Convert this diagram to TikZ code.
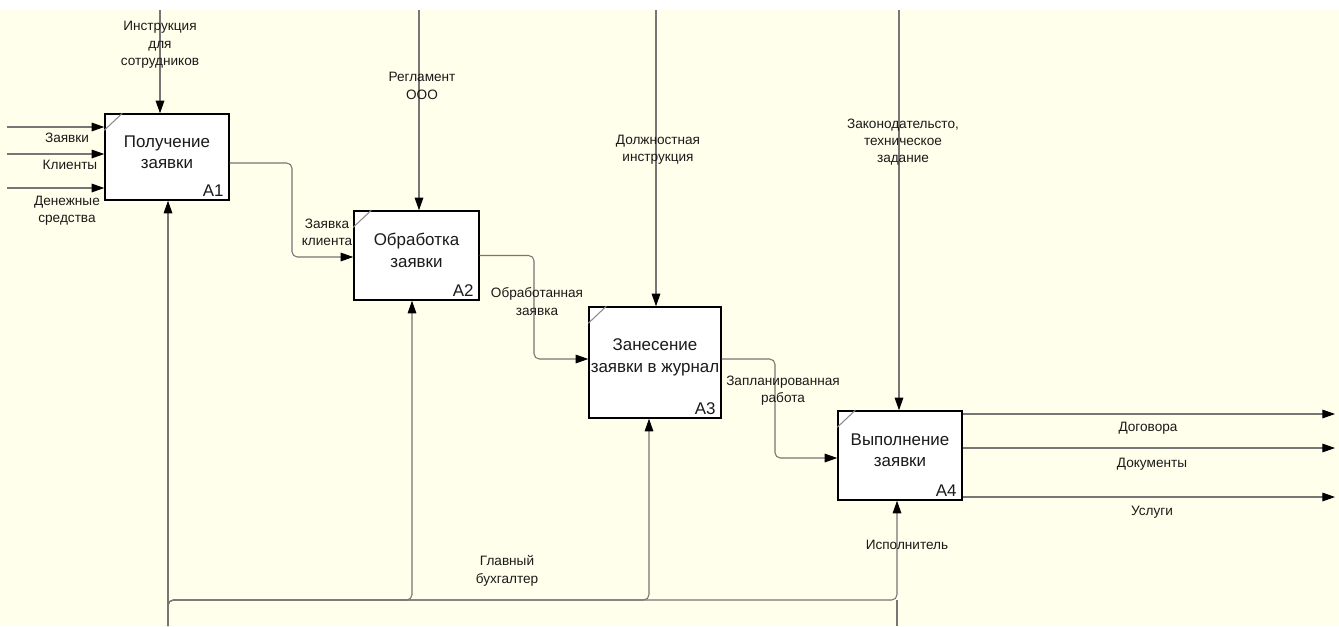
\documentclass[tikz,border=0pt]{standalone}
\usepackage{fontspec}
\setmainfont{Liberation Sans}
\usetikzlibrary{positioning,calc,arrows.meta}

\begin{document}
\begin{tikzpicture}[x=0.75pt,y=-0.75pt]
    \definecolor{colback}{HTML}{FFFFEB}
    \definecolor{colline}{HTML}{767676}
    \definecolor{colmark}{HTML}{8C8C8C}
    \definecolor{coltext}{HTML}{1A1A1A}
    \tikzstyle{func}=[draw=black,fill=white,line width=1.1pt,inner sep=0pt]
    \tikzstyle{ftitle}=[align=center,inner sep=0pt,text=coltext,font=\fontsize{12.7}{16}\selectfont]
    \tikzstyle{fnum}=[anchor=south east,inner sep=0pt,text=coltext,font=\fontsize{12.7}{16}\selectfont]
    \tikzstyle{lbl}=[align=center,inner sep=0pt,text=coltext,font=\fontsize{10.2}{13}\selectfont]
    \tikzstyle{conn}=[colline,line width=0.8pt,rounded corners=4pt,
                      -{Triangle[length=9.5pt,width=6.5pt,color=black,fill=black]}]
    \tikzstyle{cornermark}=[colmark,line width=0.8pt]
    % background
    \useasboundingbox (0,0) rectangle (1339,626);
    \fill[white] (0,0) rectangle (1339,626);
    \fill[colback] (0,10) rectangle (1339,626);
    % functions
    \node[func,minimum width=93pt,minimum height=64.5pt] (A1) at (167,157) {};
    \node[func,minimum width=93.75pt,minimum height=66.75pt] (A2) at (416.5,255.5) {};
    \node[func,minimum width=99pt,minimum height=83.25pt] (A3) at (655,362.5) {};
    \node[func,minimum width=93pt,minimum height=66.75pt] (A4) at (900,455.5) {};
    \node[ftitle] (t1) at ($(A1)+(0,-5)$) {Получение\\заявки};
    \node[ftitle] (t2) at ($(A2)+(0,-5)$) {Обработка\\заявки};
    \node[ftitle] (t3) at ($(A3)+(0,-5)$) {Занесение\\заявки в журнал};
    \node[ftitle] (t4) at ($(A4)+(0,-5)$) {Выполнение\\заявки};
    \node[fnum] (n1) at ($(A1.south east)+(-6,-4)$) {A1};
    \node[fnum] (n2) at ($(A2.south east)+(-6,-4)$) {A2};
    \node[fnum] (n3) at ($(A3.south east)+(-6,-4)$) {A3};
    \node[fnum] (n4) at ($(A4.south east)+(-6,-4)$) {A4};
    \draw[cornermark] ($(A1.north west)+(0,17)$) -- ($(A1.north west)+(18,0)$);
    \draw[cornermark] ($(A2.north west)+(0,17)$) -- ($(A2.north west)+(18,0)$);
    \draw[cornermark] ($(A3.north west)+(0,17)$) -- ($(A3.north west)+(18,0)$);
    \draw[cornermark] ($(A4.north west)+(0,17)$) -- ($(A4.north west)+(18,0)$);
    % inputs
    \coordinate (inZ) at (7,127);
    \coordinate (inK) at (7,154);
    \coordinate (inD) at (7,188);
    \draw[conn] (inZ) -- (inZ -| A1.west);
    \draw[conn] (inK) -- (inK -| A1.west);
    \draw[conn] (inD) -- (inD -| A1.west);
    \node[lbl] (lZ) at (67,138) {Заявки};
    \node[lbl] (lK) at (70,165) {Клиенты};
    \node[lbl] (lD) at (67,211) {Денежные\\средства};
    % controls
    \coordinate (ctl1) at (160,10);
    \coordinate (ctl2) at (419,10);
    \coordinate (ctl3) at (656,10);
    \coordinate (ctl4) at (899,10);
    \draw[conn] (ctl1) -- (ctl1 |- A1.north);
    \draw[conn] (ctl2) -- (ctl2 |- A2.north);
    \draw[conn] (ctl3) -- (ctl3 |- A3.north);
    \draw[conn] (ctl4) -- (ctl4 |- A4.north);
    \node[lbl] (lc1) at (160,45) {Инструкция\\для\\сотрудников};
    \node[lbl] (lc2) at (422,86) {Регламент\\ООО};
    \node[lbl] (lc3) at (658,150) {Должностная\\инструкция};
    \node[lbl] (lc4) at (903,142) {Законодательсто,\\техническое\\задание};
    % between functions
    \coordinate (b12) at (292,257);
    \coordinate (b23) at (534,359);
    \coordinate (b34) at (775,458);
    \draw[conn] ($(A1.east)+(0,6)$) -| (b12) -- (b12 -| A2.west);
    \draw[conn] (A2.east) -| (b23) -- (b23 -| A3.west);
    \draw[conn] ($(A3.east)+(0,-3.5)$) -| (b34) -- (b34 -| A4.west);
    \node[lbl] (l12) at (327,232) {Заявка\\клиента};
    \node[lbl] (l23) at (537,301.5) {Обработанная\\заявка};
    \node[lbl] (l34) at (783,390.5) {Запланированная\\работа};
    % outputs
    \coordinate (outDg) at (1335,414);
    \coordinate (outDk) at (1335,448);
    \coordinate (outU) at (1335,497);
    \draw[conn] (outDg -| A4.east) -- (outDg);
    \draw[conn] (outDk -| A4.east) -- (outDk);
    \draw[conn] (outU -| A4.east) -- (outU);
    \node[lbl] (lDg) at (1148,428) {Договора};
    \node[lbl] (lDk) at (1152,464) {Документы};
    \node[lbl] (lU) at (1152,512) {Услуги};
    % mechanisms
    \coordinate (mecL) at (168,626);
    \coordinate (mecR) at (897,626);
    \coordinate (m2) at (412,600);
    \coordinate (m3) at (649,600);
    \coordinate (m4) at (897,600);
    \draw[conn] (mecL) -- (mecL |- A1.south);
    \draw[conn] (mecL) |- (m2) -- (m2 |- A2.south);
    \draw[conn] (mecL) |- (m3) -- (m3 |- A3.south);
    \draw[conn] (mecL) |- (m4) -- (m4 |- A4.south);
    \draw[conn,-] (mecR) -- (m4);
    \node[lbl] (lm1) at (507,571) {Главный\\бухгалтер};
    \node[lbl] (lm2) at (907,545) {Исполнитель};
\end{tikzpicture}
\end{document}
